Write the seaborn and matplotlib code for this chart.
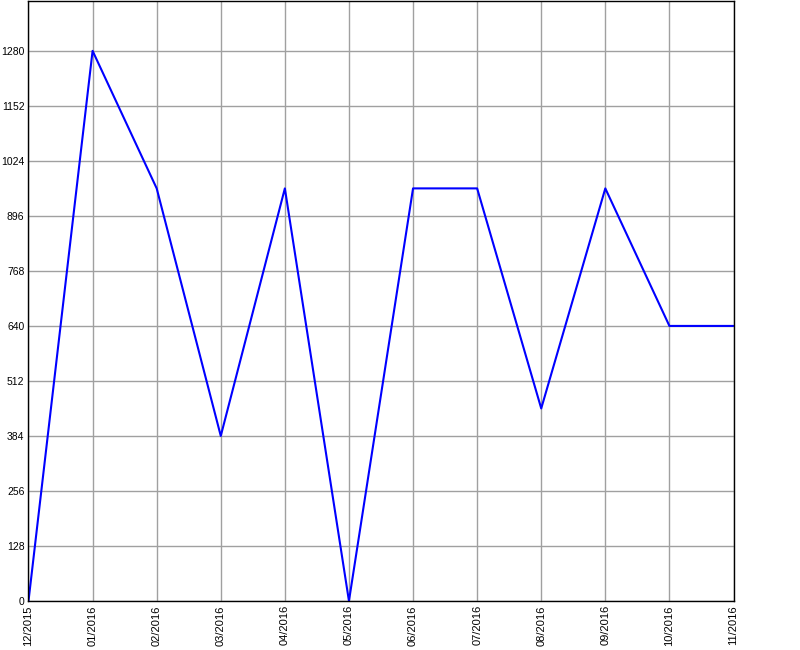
import matplotlib
matplotlib.use("Agg")
import matplotlib.pyplot as plt
import seaborn as sns
import pandas as pd

months = ["12/2015", "01/2016", "02/2016", "03/2016", "04/2016", "05/2016",
          "06/2016", "07/2016", "08/2016", "09/2016", "10/2016", "11/2016"]
values = [0, 1280, 960, 384, 960, 0, 960, 960, 448, 960, 640, 640]
yticks = [0, 128, 256, 384, 512, 640, 768, 896, 1024, 1152, 1280]

df = pd.DataFrame({"idx": range(len(months)), "value": values})

sns.set_style("white")
plt.rcParams['font.family'] = ['Liberation Sans', 'DejaVu Sans']

fig = plt.figure(figsize=(8, 6.5), dpi=100)
ax = fig.add_axes([28.5 / 800, 1 - 601 / 650, 705 / 800, 600 / 650])
sns.lineplot(data=df, x="idx", y="value", ax=ax, color="#0000ff", linewidth=1.5)

ax.set_xlim(0, len(months) - 1)
ax.set_ylim(0, 1396)
ax.set_xticks(range(len(months)))
ax.set_xticklabels(months, rotation=90, fontsize=8, color="black")
ax.set_yticks(yticks)
ax.set_yticklabels([str(v) for v in yticks], fontsize=7.5, color="black")
ax.grid(True, color="#a0a0a0", linewidth=1)
ax.set_axisbelow(True)
ax.set_xlabel("")
ax.set_ylabel("")
for s in ax.spines.values():
    s.set_color("black")
    s.set_linewidth(1)
ax.tick_params(axis="both", length=2, width=0.8, color="black", pad=1)

fig.savefig("out.png", dpi=100)
